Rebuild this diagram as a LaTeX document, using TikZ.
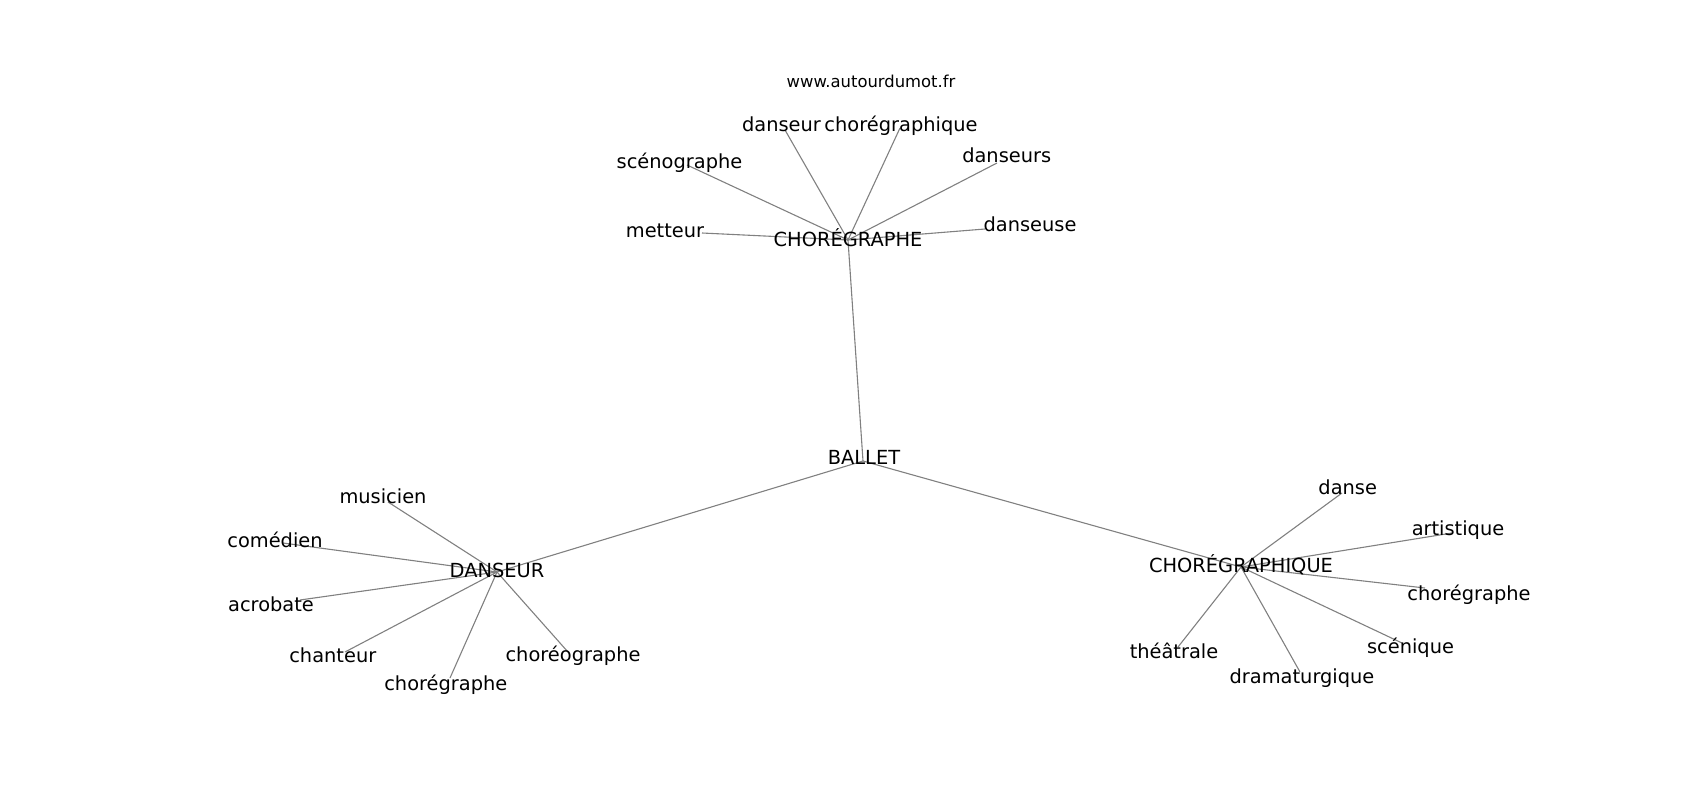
\documentclass[tikz,border=0pt]{standalone}
\usepackage{fontspec}
\setmainfont{DejaVu Sans}
\begin{document}
\begin{tikzpicture}[x=1pt,y=-1pt,
  edge/.style={draw=black!50,line width=1.1pt},
  lbl/.style={anchor=base,inner sep=0pt,font=\fontsize{19.4}{23}\selectfont},
  ttl/.style={anchor=base,inner sep=0pt,font=\fontsize{16.4}{20}\selectfont}]
\useasboundingbox (0,0) rectangle (1700,800);
% graph node positions
\coordinate (ballet) at (863,461);
\coordinate (chor) at (848,240);
\coordinate (dans) at (497,572);
\coordinate (chorq) at (1241,567);
\coordinate (metteur) at (702,233);
\coordinate (sceno) at (687,165);
\coordinate (danseur) at (785,130);
\coordinate (choregraphique) at (900,128);
\coordinate (danseurs) at (997,163);
\coordinate (danseuse) at (985,229);
\coordinate (musicien) at (388,502);
\coordinate (comedien) at (283,543);
\coordinate (acrobate) at (300,600);
\coordinate (chanteur) at (345,652);
\coordinate (chorega) at (450,678);
\coordinate (choreo) at (568,652);
\coordinate (danse) at (1342,493);
\coordinate (artistique) at (1452,533);
\coordinate (choregb) at (1425,588);
\coordinate (scenique) at (1402,643);
\coordinate (drama) at (1300,672);
\coordinate (theatrale) at (1178,647);
% edges
\foreach \a/\b in {ballet/chor,ballet/dans,ballet/chorq,
  chor/metteur,chor/sceno,chor/danseur,chor/choregraphique,chor/danseurs,chor/danseuse,
  dans/musicien,dans/comedien,dans/acrobate,dans/chanteur,dans/chorega,dans/choreo,
  chorq/danse,chorq/artistique,chorq/choregb,chorq/scenique,chorq/drama,chorq/theatrale}
  \draw[edge] (\a) -- (\b);
% labels
\node[ttl] (t) at (871,87.7) {www.autourdumot.fr};
\node[lbl] (lballet) at (864,464) {BALLET};
\node[lbl] (lchor) at (848,246.7) {CHORÉGRAPHE};
\node[lbl] (ldans) at (497,577.7) {DANSEUR};
\node[lbl] (lchorq) at (1241,572.7) {CHORÉGRAPHIQUE};
\node[lbl] (lmetteur) at (665,237.7) {metteur};
\node[lbl] (lsceno) at (679.5,168.3) {scénographe};
\node[lbl] (ldanseur) at (781.5,131) {danseur};
\node[lbl] (lchoregraphique) at (901,131) {chorégraphique};
\node[lbl] (ldanseurs) at (1006.7,162.7) {danseurs};
\node[lbl] (ldanseuse) at (1030,231) {danseuse};
\node[lbl] (lmusicien) at (383,503.3) {musicien};
\node[lbl] (lcomedien) at (275,547.3) {comédien};
\node[lbl] (lacrobate) at (271,611) {acrobate};
\node[lbl] (lchanteur) at (332.8,662.7) {chanteur};
\node[lbl] (lchorega) at (445.8,690) {chorégraphe};
\node[lbl] (lchoreo) at (573,661.7) {choréographe};
\node[lbl] (ldanse) at (1347.7,494) {danse};
\node[lbl] (lartistique) at (1458,535.7) {artistique};
\node[lbl] (lchoregb) at (1469,600) {chorégraphe};
\node[lbl] (lscenique) at (1410.5,653.3) {scénique};
\node[lbl] (ldrama) at (1302,683.3) {dramaturgique};
\node[lbl] (ltheatrale) at (1174,658.3) {théâtrale};
\end{tikzpicture}
\end{document}
